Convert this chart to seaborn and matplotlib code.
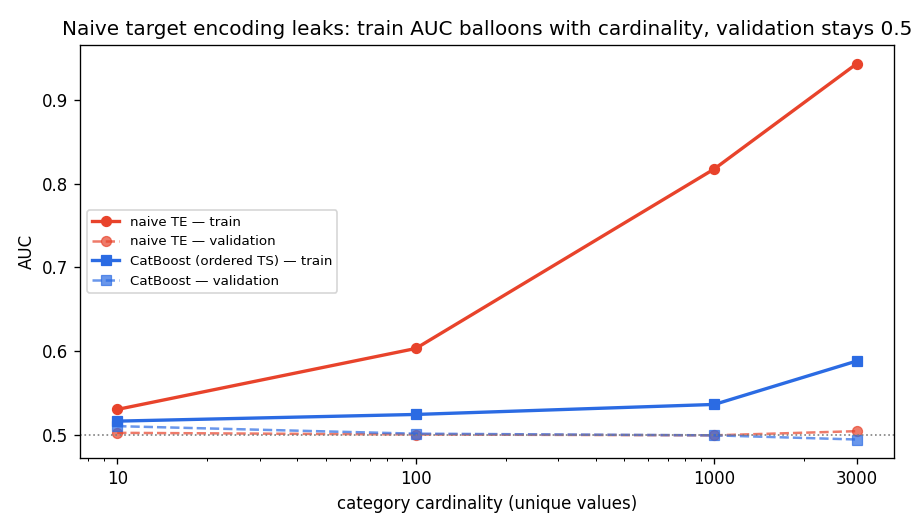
import numpy as np
import pandas as pd
import matplotlib
matplotlib.use('Agg')
import matplotlib.pyplot as plt
import matplotlib.ticker as mticker
import seaborn as sns

cardinality = [10, 100, 1000, 3000]
naive_train = [0.530, 0.603, 0.818, 0.944]
naive_val = [0.502, 0.500, 0.499, 0.504]
cb_train = [0.516, 0.524, 0.536, 0.588]
cb_val = [0.510, 0.501, 0.499, 0.494]

RED = '#e8432b'
BLUE = '#2b6be3'

plt.rcParams['font.family'] = ['DejaVu Sans']

fig, ax = plt.subplots(figsize=(7.6, 4.4), dpi=120)
fig.subplots_adjust(left=0.088, right=0.98, top=0.915, bottom=0.132)

series = [
    ('naive TE — train', naive_train, RED, '-', 'o', 2.0, 6, 1.0),
    ('naive TE — validation', naive_val, RED, '--', 'o', 1.5, 6, 0.7),
    ('CatBoost (ordered TS) — train', cb_train, BLUE, '-', 's', 2.0, 6, 1.0),
    ('CatBoost — validation', cb_val, BLUE, '--', 's', 1.5, 6, 0.7),
]
for name, vals, color, ls, mk, lw, ms, a in series:
    df = pd.DataFrame({'cardinality': cardinality, 'AUC': vals})
    sns.lineplot(data=df, x='cardinality', y='AUC', ax=ax, color=color,
                 linestyle=ls, marker=mk, linewidth=lw, markersize=ms,
                 markeredgecolor=color, alpha=a, label=name)

ax.axhline(0.5, color='gray', linestyle=':', linewidth=1)
ax.set_xscale('log')
ax.set_xticks(cardinality)
ax.xaxis.set_major_formatter(mticker.FuncFormatter(lambda v, p: f'{int(v)}'))
ax.margins(x=0.05, y=0.05)
ax.set_xlabel('category cardinality (unique values)')
ax.set_ylabel('AUC')
ax.set_title('Naive target encoding leaks: train AUC balloons with cardinality, validation stays 0.5')
ax.legend(loc='center left', fontsize=8)

fig.savefig('out.png', dpi=120)
